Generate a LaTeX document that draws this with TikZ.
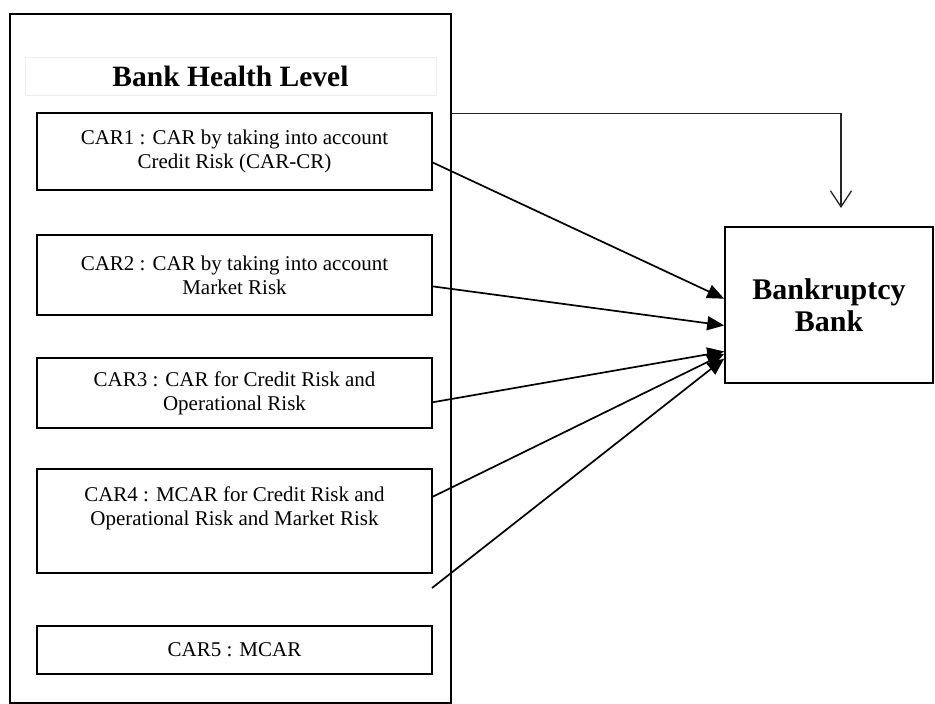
\documentclass[tikz,border=0pt]{standalone}
\usepackage{fontspec}
\setmainfont{Liberation Serif}
\usetikzlibrary{arrows.meta,calc}
\begin{document}
\begin{tikzpicture}[x=1pt,y=-1pt,
  outerbox/.style={draw, line width=1.8pt, inner sep=0pt},
  titlebox/.style={draw=black!7, line width=1pt, inner sep=0pt, font=\bfseries\fontsize{29.5}{35}\selectfont},
  carbox/.style={draw, line width=1.3pt, minimum width=395pt, align=center, inner sep=0pt, font=\fontsize{21}{24}\selectfont},
  bankbox/.style={draw, line width=1.6pt, minimum width=208pt, minimum height=156pt, align=center, inner sep=0pt, font=\bfseries\fontsize{30}{32}\selectfont},
  link/.style={line width=1.7pt, -{Triangle[length=17pt,width=14pt]}},
  feed/.style={line width=1.1pt, draw=black!85, -{Straight Barb[length=16pt,width=21pt,line width=1.3pt]}}]
\useasboundingbox (0,0) rectangle (935,704);
\node[outerbox, minimum width=441pt, minimum height=689pt] (health) at (230.5,358.5) {};
\node[titlebox, minimum width=411pt, minimum height=38pt] (title) at (230.5,76) {Bank Health Level};
\node[carbox, minimum height=77pt] (car1) at (234.5,151.5) {CAR1 : CAR by taking into account\\Credit Risk (CAR-CR)};
\node[carbox, minimum height=80pt] (car2) at (234.5,275) {CAR2 : CAR by taking into account\\Market Risk};
\node[carbox, minimum height=70pt] (car3) at (234.5,393) {CAR3 : CAR for Credit Risk and\\Operational Risk};
\node[carbox, minimum height=104pt] (car4) at (234.5,521) {CAR4 : MCAR for Credit Risk and\\Operational Risk and Market Risk\\[6pt]~};
\node[carbox, minimum height=48pt] (car5) at (234.5,650) {CAR5 : MCAR};
\node[bankbox] (bank) at (829,305) {Bankruptcy\\Bank};
\coordinate (free) at (432,588);
\coordinate (drop) at (841,208);
\draw[link] ($(car1.south east)!0.36!(car1.north east)$) -- ($(bank.north west)!0.46!(bank.south west)$);
\draw[link] ($(car2.south east)!0.36!(car2.north east)$) -- ($(bank.north west)!0.63!(bank.south west)$);
\draw[link] ($(car3.south east)!0.37!(car3.north east)$) -- ($(bank.north west)!0.795!(bank.south west)$);
\draw[link] ($(car4.south east)!0.73!(car4.north east)$) -- ($(bank.north west)!0.81!(bank.south west)$);
\draw[link] (free) -- ($(bank.north west)!0.84!(bank.south west)$);
\draw[feed] ($(health.north east)!0.145!(health.south east)$) -| (drop);
\end{tikzpicture}
\end{document}
